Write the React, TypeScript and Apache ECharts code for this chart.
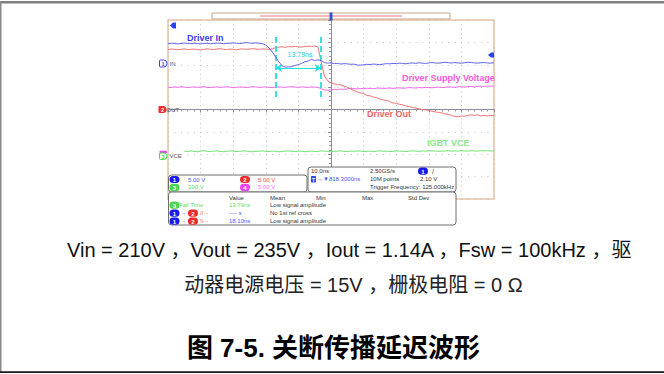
import React, { useEffect, useRef } from "react";
import * as echarts from "echarts";

// sample times (ns, 10 ns/div, trigger at 0)
const TIME = [
  -50, -49, -48, -47, -46, -45, -44, -43, -42, -41, -40, -39, -38, -37, -36, -35, -34, -33, -32, -31,
  -30, -29, -28, -27, -26, -25, -24, -23, -22, -21, -20, -19, -18, -17, -16, -15, -14, -13, -12, -11,
  -10, -9, -8, -7, -6, -5, -4, -3, -2, -1, 0, 1, 2, 3, 4, 5, 6, 7, 8, 9,
  10, 11, 12, 13, 14, 15, 16, 17, 18, 19, 20, 21, 22, 23, 24, 25, 26, 27, 28, 29,
  30, 31, 32, 33, 34, 35, 36, 37, 38, 39, 40, 41, 42, 43, 44, 45, 46, 47, 48, 49, 50,
];

// screen positions in divisions (center = 0)
const DRIVER_IN = [
  2.94, 2.96, 2.95, 2.93, 2.95, 2.97, 2.95, 2.94, 2.96, 2.95,
  2.93, 2.95, 2.96, 2.94, 2.95, 2.97, 2.96, 2.94, 2.95, 2.96,
  2.98, 2.96, 2.95, 2.97, 2.99, 2.97, 2.96, 2.98, 2.96, 2.94,
  2.88, 2.75, 2.57, 2.35, 2.13, 1.95, 1.9, 1.9, 1.92, 1.97,
  2.01, 2.06, 2.13, 2.17, 2.24, 2.19, 2.22, 2.18, 2.1, 2.07,
  2.09, 2.05, 2.06, 2.03, 2.05, 2.04, 2.02, 2.03, 1.99, 1.98,
  2.0, 2.02, 2.01, 2.03, 2.02, 2.0, 2.03, 2.05, 2.04, 2.06,
  2.05, 2.07, 2.06, 2.04, 2.07, 2.08, 2.06, 2.09, 2.07, 2.06,
  2.08, 2.1, 2.08, 2.07, 2.09, 2.11, 2.09, 2.08, 2.1, 2.08,
  2.07, 2.09, 2.11, 2.1, 2.08, 2.07, 2.09, 2.1, 2.08, 2.07, 2.09,
];

const DRIVER_OUT = [
  2.68, 2.7, 2.69, 2.67, 2.69, 2.71, 2.68, 2.69, 2.7, 2.68,
  2.66, 2.69, 2.71, 2.69, 2.68, 2.7, 2.72, 2.69, 2.68, 2.7,
  2.69, 2.67, 2.7, 2.71, 2.69, 2.7, 2.72, 2.7, 2.69, 2.71,
  2.7, 2.69, 2.71,
  2.77, 2.79, 2.8, 2.78, 2.81, 2.8, 2.82, 2.8, 2.79, 2.81, 2.83, 2.82, 2.84, 2.8,
  2.12, 1.5, 1.28, 1.19, 1.14, 1.12, 1.1, 1.05, 0.99, 0.92,
  0.85, 0.79, 0.74, 0.72, 0.63, 0.61, 0.56, 0.53, 0.47, 0.43,
  0.41, 0.36, 0.29, 0.28, 0.23, 0.21, 0.16, 0.13, 0.09, 0.07,
  0.03, 0.0, -0.02, -0.04, -0.08, -0.11, -0.13, -0.15, -0.2, -0.22,
  -0.26, -0.31, -0.33, -0.29, -0.31, -0.26, -0.24, -0.26, -0.24, -0.29,
  -0.26, -0.29, -0.26, -0.29,
];

const SUPPLY = [
  1.0, 0.98, 1.01, 0.99, 1.02, 1.0, 0.98, 1.0, 1.01, 0.99,
  1.0, 1.02, 0.99, 0.98, 1.0, 1.01, 0.99, 1.0, 1.02, 1.0,
  0.98, 0.99, 1.01, 1.0, 0.98, 1.0, 1.02, 1.01, 0.99, 1.0,
  1.01, 0.99, 0.98, 1.0, 1.01, 1.0, 0.99, 1.01, 1.02, 1.0,
  0.99, 1.01, 1.0, 0.99, 1.01, 1.0, 0.99,
  0.93, 0.87, 0.86, 0.88, 0.9, 0.89, 0.91, 0.9, 0.92, 0.94,
  0.93, 0.92, 0.94, 0.93, 0.95, 0.94, 0.93, 0.95, 0.96, 0.94,
  0.95, 0.96, 0.94, 0.96, 0.97, 0.95, 0.96, 0.98, 0.97, 0.96,
  0.98, 0.97, 0.99, 0.98, 0.97, 0.99, 1.0, 0.98, 0.99, 1.01,
  1.0, 0.99, 1.01, 1.02, 1.0, 1.02, 1.03, 1.01, 1.03, 1.04,
  1.03, 1.05, 1.04, 1.05,
];

const VCE = [
  null, null, null, null, null,
  -1.86, -1.88, -1.85, -1.87, -1.89, -1.86, -1.84, -1.87, -1.88, -1.86,
  -1.85, -1.87, -1.89, -1.87, -1.85, -1.86, -1.88, -1.87, -1.85, -1.86,
  -1.88, -1.89, -1.87, -1.86, -1.85, -1.87, -1.88, -1.86, -1.87, -1.89,
  -1.88, -1.86, -1.85, -1.87, -1.88, -1.86, -1.87, -1.89, -1.87, -1.86,
  -1.88, -1.87, -1.85, -1.86, -1.88, -1.89, -1.87, -1.86, -1.85, -1.87,
  -1.88, -1.86, -1.87, -1.85, -1.86, -1.88, -1.87, -1.86, -1.88, -1.86,
  -1.85, -1.87, -1.86, -1.88, -1.87, -1.85, -1.86, -1.87, -1.88, -1.86,
  -1.85, -1.86, -1.87, -1.85, -1.86, -1.84, -1.86, -1.85, -1.87, -1.86,
  -1.85, -1.84, -1.86, -1.85, -1.86, -1.84, -1.85, -1.86, -1.84, -1.85,
  -1.86, -1.84, -1.85, -1.84, -1.86, -1.85,
];

const CURSORS = [-16.9, -3.11];
const CURSOR_SPAN = [3.24, 0.43];
const CURSOR_ARROW_Y = 1.86;
const DELTA_LABEL = "13.79ns";

const LINE1 = "Vin = 210V ，Vout = 235V ，Iout = 1.14A ，Fsw = 100kHz ，驱";
const LINE2 = "动器电源电压 = 15V ，栅极电阻 = 0 Ω";
const CAPTION = "图 7-5. 关断传播延迟波形";

const SF = '"Liberation Sans", Arial, sans-serif';
const DOCF = '"Liberation Sans", Arial, "Noto Sans CJK SC", sans-serif';

function txt(x: number, y: number, text: string, fill: string, size = 6, extra: any = {}) {
  return {
    type: "text",
    z: 30,
    x,
    y,
    style: {
      text,
      fill,
      fontSize: size,
      fontFamily: extra.family || SF,
      fontWeight: extra.weight || "normal",
      textAlign: extra.align || "left",
      textVerticalAlign: "middle",
    },
  };
}

function pill(x: number, yc: number, color: string, num: string, w = 10) {
  return [
    {
      type: "rect",
      z: 30,
      shape: { x, y: yc - 3.6, width: w, height: 7.2, r: 3.6 },
      style: { fill: color },
    },
    txt(x + w / 2, yc + 0.3, num, "#ffffff", 6, { align: "center", weight: "bold" }),
  ];
}

function box(x: number, y: number, w: number, h: number) {
  return {
    type: "rect",
    z: 25,
    shape: { x, y, width: w, height: h, r: 3 },
    style: { fill: "#ffffff", stroke: "#6e6e6e", lineWidth: 1 },
  };
}

export default function App() {
  const ref = useRef<HTMLDivElement>(null);
  useEffect(() => {
    if (!ref.current) return;
    const chart = echarts.init(ref.current, undefined, { renderer: "svg" });
    const pair = (arr: (number | null)[]) => TIME.map((t, i) => [t, arr[i]]);

    const BLUE = "#3f3ff2";
    const RED = "#ee2a2a";
    const GREEN = "#48d848";
    const MAG = "#ee44ee";
    const DARK = "#333333";
    const BLUE_T = "#4a55ff";

    const graphics: any[] = [
      // page borders
      { type: "rect", z: 40, shape: { x: 0, y: 1, width: 664, height: 2.4 }, style: { fill: "#7f7f7f" } },
      { type: "rect", z: 40, shape: { x: 0, y: 1, width: 1.5, height: 372 }, style: { fill: "#8a8a8a" } },
      { type: "rect", z: 40, shape: { x: 0, y: 371.3, width: 664, height: 1.6 }, style: { fill: "#1a1a1a" } },
      // timeline bar
      { type: "rect", z: 20, shape: { x: 212, y: 13, width: 238, height: 6 }, style: { fill: "#fff", stroke: "#c9a78c", lineWidth: 1 } },
      { type: "line", z: 21, shape: { x1: 260, y1: 16, x2: 402, y2: 16 }, style: { stroke: "#f07878", lineWidth: 1 } },
      { type: "rect", z: 22, shape: { x: 329.5, y: 12.5, width: 3, height: 8 }, style: { fill: "#3355cc" } },
      // trigger markers
      { type: "polygon", z: 22, shape: { points: [[170, 25.5], [173, 22.5], [176, 22.5], [176, 28.5], [173, 28.5]] }, style: { fill: "#2a44ee" } },
      { type: "polygon", z: 22, shape: { points: [[488, 55], [491, 52.5], [494, 52.5], [494, 57.5], [491, 57.5]] }, style: { fill: "#2a44ee" } },
      // channel ref markers
      { type: "rect", z: 22, shape: { x: 159.5, y: 60, width: 7.5, height: 7, r: [1, 3.5, 3.5, 1] }, style: { fill: "#fff", stroke: BLUE, lineWidth: 1 } },
      txt(163, 63.7, "1", BLUE, 5.5, { align: "center", weight: "bold" }),
      txt(169.5, 63.5, "IN", "#555", 6),
      { type: "rect", z: 22, shape: { x: 158.5, y: 106, width: 8, height: 7, r: [1, 3.5, 3.5, 1] }, style: { fill: RED } },
      txt(162.5, 109.8, "2", "#fff", 5.5, { align: "center", weight: "bold" }),
      txt(166.5, 109.6, "OUT", "#555", 6),
      { type: "rect", z: 22, shape: { x: 159.5, y: 150.8, width: 7.5, height: 2.4, r: 1 }, style: { fill: MAG } },
      { type: "rect", z: 22, shape: { x: 159.5, y: 153, width: 7.5, height: 6.5, r: [1, 3.2, 3.2, 1] }, style: { fill: "#fff", stroke: GREEN, lineWidth: 1 } },
      txt(163, 156.5, "3", GREEN, 5.5, { align: "center", weight: "bold" }),
      txt(169.5, 155.8, "VCE", "#555", 6),
      // trace labels
      txt(187, 37.5, "Driver In", "#3c3cf0", 9, { weight: "bold" }),
      txt(402, 77.8, "Driver Supply Voltage", "#ff55dc", 9, { weight: "bold" }),
      txt(367, 114.2, "Driver Out", "#f26464", 9, { weight: "bold" }),
      txt(427, 143.2, "IGBT VCE", "#8ce88c", 9, { weight: "bold" }),
      txt(300, 54.5, DELTA_LABEL, "#22d0d8", 7, { align: "center" }),
      // info boxes
      box(168.5, 175, 138.5, 17),
      box(308, 167, 148, 25),
      box(168.5, 192, 287.5, 33),
      ...pill(169.5, 179.5, "#1a1aee", "1"),
      txt(188, 179.5, "5.00 V", BLUE_T),
      ...pill(240, 179.5, RED, "2"),
      txt(258, 179.5, "5.00 V", "#ff4a4a"),
      ...pill(169.5, 187.4, GREEN, "3"),
      txt(188, 187.4, "100 V", "#5edc5e"),
      ...pill(240, 187.4, MAG, "4"),
      txt(258, 187.4, "5.00 V", "#ff70ff"),
      txt(311, 171.2, "10.0ns", DARK),
      txt(370, 171.2, "2.50GS/s", DARK),
      ...pill(418, 171.2, "#1a1aee", "1"),
      txt(432, 171.2, "/", DARK, 7),
      { type: "rect", z: 30, shape: { x: 311, y: 176, width: 5, height: 6.5, r: 1 }, style: { fill: "#2a44ee" } },
      txt(313.5, 179.5, "T", "#fff", 5, { align: "center", weight: "bold" }),
      txt(317, 179.4, "→▼818.3000ns", BLUE_T),
      txt(370, 179.4, "10M points", DARK),
      txt(420, 179.4, "2.10 V", DARK),
      txt(370, 187.3, "Trigger Frequency: 125.000kHz", DARK),
      txt(229, 197.8, "Value", DARK),
      txt(270, 197.8, "Mean", DARK),
      txt(316, 197.8, "Min", DARK),
      txt(362, 197.8, "Max", DARK),
      txt(408, 197.8, "Std Dev", DARK),
      ...pill(169.5, 205.2, GREEN, "3"),
      txt(179, 205.2, "Fall Time", "#66dd66"),
      txt(229, 205.2, "13.79ns", "#66dd66"),
      txt(270, 205.2, "Low signal amplitude", DARK),
      ...pill(169.5, 213.2, "#1a1aee", "1"),
      txt(180.5, 213.2, "→", BLUE_T),
      ...pill(188, 213.2, RED, "2"),
      txt(200, 213.2, "//→", "#ff4a4a"),
      txt(229, 213.2, "---- s", BLUE_T),
      txt(270, 213.2, "No 1st ref cross", DARK),
      ...pill(169.5, 221.2, "#1a1aee", "1"),
      txt(180.5, 221.2, "→", BLUE_T),
      ...pill(188, 221.2, RED, "2"),
      txt(200, 221.2, "\\\\→", "#ff4a4a"),
      txt(229, 221.2, "18.10ns", BLUE_T),
      txt(270, 221.2, "Low signal amplitude", DARK),
      // document text
      txt(67, 249.5, LINE1, "#111", 20, { family: DOCF }),
      txt(353.5, 284.5, LINE2, "#222", 20, { family: DOCF, align: "center" }),
      txt(333.5, 347.5, CAPTION, "#000", 26, { family: DOCF, align: "center", weight: "bold" }),
    ];

    const axisCommon = {
      axisLabel: { show: false },
      axisLine: { show: true, onZero: true, lineStyle: { color: "#8a8a98", width: 1 } },
      axisTick: { show: true, length: 3, inside: false, lineStyle: { color: "#8a8a98" } },
      minorTick: { show: true, splitNumber: 5, length: 2, lineStyle: { color: "#9a9aa6" } },
    };

    chart.setOption({
      animation: false,
      backgroundColor: "#ffffff",
      grid: {
        left: 168,
        top: 20,
        width: 326,
        height: 179,
        show: true,
        borderColor: "#e8c2a4",
        borderWidth: 1.5,
        backgroundColor: "transparent",
      },
      xAxis: {
        type: "value",
        min: -50,
        max: 50,
        interval: 10,
        ...axisCommon,
        splitLine: { show: true, lineStyle: { color: "#c4c4c4", width: 1, type: [1, 3.48] } },
      },
      yAxis: {
        type: "value",
        min: -4,
        max: 4,
        interval: 1,
        ...axisCommon,
        splitLine: { show: true, lineStyle: { color: "#c4c4c4", width: 1, type: [1, 5.52] } },
      },
      series: [
        {
          name: "Driver Supply Voltage",
          type: "line",
          data: pair(SUPPLY),
          showSymbol: false,
          lineStyle: { color: "#f068e8", width: 1 },
          z: 3,
        },
        {
          name: "IGBT VCE",
          type: "line",
          data: pair(VCE),
          showSymbol: false,
          lineStyle: { color: "#6ee46e", width: 1 },
          z: 3,
        },
        {
          name: "Driver Out",
          type: "line",
          data: pair(DRIVER_OUT),
          showSymbol: false,
          lineStyle: { color: "#f27272", width: 1 },
          z: 4,
        },
        {
          name: "Driver In",
          type: "line",
          data: pair(DRIVER_IN),
          showSymbol: false,
          lineStyle: { color: "#6464f0", width: 1 },
          z: 5,
          markLine: {
            silent: true,
            symbol: "none",
            label: { show: false },
            lineStyle: { color: "#22dede", type: [6, 3], width: 1.8 },
            data: [
              [{ coord: [CURSORS[0], CURSOR_SPAN[0]] }, { coord: [CURSORS[0], CURSOR_SPAN[1]] }],
              [{ coord: [CURSORS[1], CURSOR_SPAN[0]] }, { coord: [CURSORS[1], CURSOR_SPAN[1]] }],
              [
                { coord: [CURSORS[0], CURSOR_ARROW_Y], symbol: "arrow", symbolSize: 6, lineStyle: { type: "solid", width: 1.2, color: "#22dede" } },
                { coord: [CURSORS[1], CURSOR_ARROW_Y], symbol: "arrow", symbolSize: 6 },
              ],
            ],
          },
        },
      ],
      graphic: graphics,
    });
    return () => chart.dispose();
  }, []);
  return (
    <div
      ref={ref}
      style={{ position: "fixed", left: 0, top: 0, width: 664, height: 374, background: "#fff" }}
    />
  );
}
